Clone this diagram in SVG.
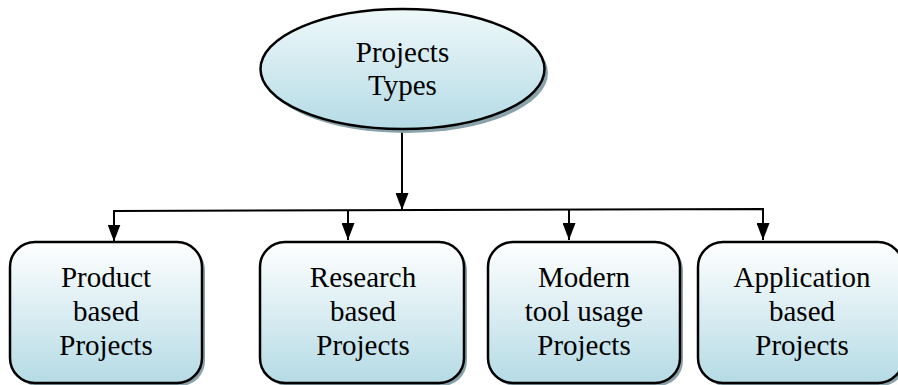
<svg xmlns="http://www.w3.org/2000/svg" width="898" height="385" viewBox="0 0 898 385">
<defs>
<linearGradient id="g" x1="0" y1="0" x2="0" y2="1">
<stop offset="0" stop-color="#ffffff"/>
<stop offset="1" stop-color="#b5dbe5"/>
</linearGradient>
<linearGradient id="ge" x1="0" y1="0" x2="0" y2="1">
<stop offset="0" stop-color="#eef8fa"/>
<stop offset="1" stop-color="#b5dbe5"/>
</linearGradient>
<marker id="arr" viewBox="0 0 17 13" refX="17" refY="6.5" markerWidth="17" markerHeight="13" markerUnits="userSpaceOnUse" orient="auto">
<path d="M0,0 L17,6.5 L0,13 z" fill="#000"/>
</marker>
</defs>
<style>
.shadow{fill:#8aa3ab;}
.box{fill:url(#g);stroke:#000;stroke-width:2.5;}
.ell{fill:url(#ge);stroke:#000;stroke-width:2.5;}
.t{font-family:"Liberation Serif","Times New Roman",serif;font-size:29px;fill:#000;text-anchor:middle;}
.c{fill:none;stroke:#000;stroke-width:2;}
</style>
<rect width="898" height="385" fill="#fff"/>
<g id="connectors">
<line class="c" x1="402" y1="130" x2="402" y2="210" marker-end="url(#arr)"/>
<polyline class="c" points="114,241 114,211 763,209 763,240" marker-end="url(#arr)"/>
<line class="c" x1="114" y1="225" x2="114" y2="241.5" marker-end="url(#arr)"/>
<line class="c" x1="348" y1="210.5" x2="348" y2="240" marker-end="url(#arr)"/>
<line class="c" x1="569" y1="209.5" x2="569" y2="240" marker-end="url(#arr)"/>
</g>
<g id="root">
<ellipse class="shadow" cx="406" cy="73" rx="142" ry="60"/>
<ellipse class="ell" cx="402.5" cy="69" rx="142" ry="60"/>
<text class="t" x="402.5" y="62">Projects</text>
<text class="t" x="402.5" y="95">Types</text>
</g>
<g id="n1">
<rect class="shadow" x="13" y="245" width="192" height="141" rx="25"/>
<rect class="box" x="10" y="242" width="192" height="141" rx="25"/>
<text class="t" x="106" y="287">Product</text>
<text class="t" x="106" y="321">based</text>
<text class="t" x="106" y="355">Projects</text>
</g>
<g id="n2">
<rect class="shadow" x="263" y="245" width="204" height="141" rx="25"/>
<rect class="box" x="260" y="242" width="204" height="141" rx="25"/>
<text class="t" x="363" y="287">Research</text>
<text class="t" x="363" y="321">based</text>
<text class="t" x="363" y="355">Projects</text>
</g>
<g id="n3">
<rect class="shadow" x="491" y="245" width="192" height="141" rx="25"/>
<rect class="box" x="488" y="242" width="192" height="141" rx="25"/>
<text class="t" x="584" y="287">Modern</text>
<text class="t" x="584" y="321">tool usage</text>
<text class="t" x="584" y="355">Projects</text>
</g>
<g id="n4">
<rect class="shadow" x="701" y="245" width="205" height="141" rx="25"/>
<rect class="box" x="698" y="242" width="205" height="141" rx="25"/>
<text class="t" x="802" y="287">Application</text>
<text class="t" x="802" y="321">based</text>
<text class="t" x="802" y="355">Projects</text>
</g>
</svg>
